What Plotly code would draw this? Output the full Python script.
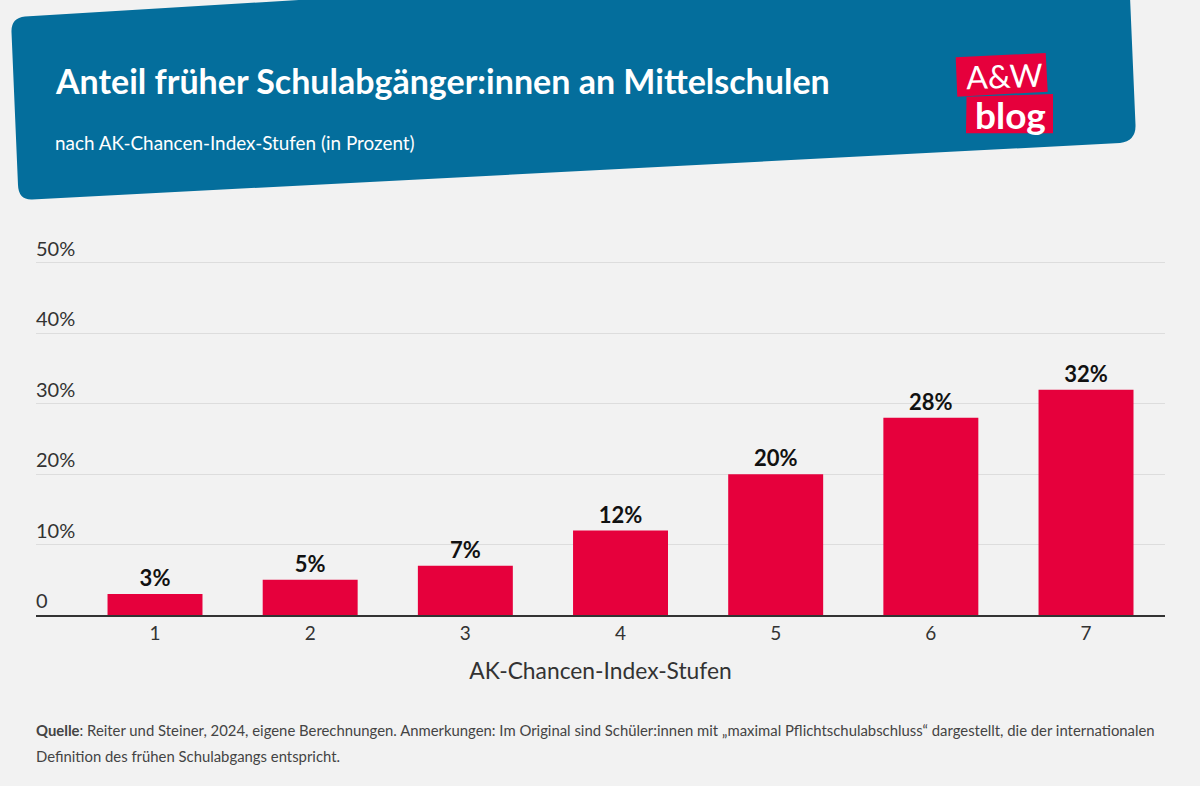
import plotly.graph_objects as go

WIDTH = 1200
HEIGHT = 786

stufen = [1, 2, 3, 4, 5, 6, 7]
anteile = [3, 5, 7, 12, 20, 28, 32]
y_ticks = [0, 10, 20, 30, 40, 50]
y_tick_labels = ["0", "10%", "20%", "30%", "40%", "50%"]

TITLE = "Anteil früher Schulabgänger:innen an Mittelschulen"
SUBTITLE = "nach AK-Chancen-Index-Stufen (in Prozent)"
X_TITLE = "AK-Chancen-Index-Stufen"
SOURCE_LINE_1 = (
    "<b>Quelle</b>: Reiter und Steiner, 2024, eigene Berechnungen. Anmerkungen: Im Original sind "
    "Schüler:innen mit „maximal Pflichtschulabschluss“ dargestellt, die der internationalen"
)
SOURCE_LINE_2 = "Definition des frühen Schulabgangs entspricht."

BACKGROUND = "#F2F2F2"
BLUE = "#046E9C"
RED = "#E6003C"
FONT = "Lato"


def px(x):
    return x / WIDTH


def py(y):
    return 1 - y / HEIGHT


def pixel_path(points, corners=()):
    """Closed SVG path in paper coordinates; corners maps a point index to its Q control point."""
    corners = dict(corners)
    parts = []
    for i, (x, y) in enumerate(points):
        if i == 0:
            parts.append(f"M {px(x):.5f},{py(y):.5f}")
        elif i in corners:
            cx, cy = corners[i]
            parts.append(f"Q {px(cx):.5f},{py(cy):.5f} {px(x):.5f},{py(y):.5f}")
        else:
            parts.append(f"L {px(x):.5f},{py(y):.5f}")
    return " ".join(parts) + " Z"


def pixel_note(x, y, text, size, color, angle=0, xanchor="left"):
    return dict(
        x=px(x), y=py(y), xref="paper", yref="paper", text=text, showarrow=False,
        xanchor=xanchor, yanchor="middle", textangle=angle,
        font=dict(family=FONT, size=size, color=color),
    )


banner = pixel_path(
    [(11.5, 32), (25, 16.5), (1128, -50), (1135.5, 125), (1120, 143), (32, 199.5), (18, 185)],
    corners={1: (11, 18), 4: (1136, 141), 6: (18.5, 200)},
)
logo_top = pixel_path([(955.7, 57.3), (1045.7, 53), (1047.7, 91.7), (957.3, 96.7)])
logo_bottom = pixel_path([(966.5, 96.7), (1053, 94), (1053, 133.3), (966, 133.3)])

fig = go.Figure()

fig.add_trace(
    go.Bar(
        x=stufen,
        y=anteile,
        width=0.612,
        marker=dict(color=RED, line=dict(width=0)),
        text=[f"{v}%" for v in anteile],
        textposition="outside",
        cliponaxis=False,
        textfont=dict(family=FONT, size=22, color="#111111", weight="bold"),
    )
)

fig.update_layout(
    width=WIDTH,
    height=HEIGHT,
    autosize=False,
    margin=dict(l=0, r=0, t=0, b=0),
    paper_bgcolor=BACKGROUND,
    plot_bgcolor=BACKGROUND,
    showlegend=False,
    font=dict(family=FONT, color="#333333"),
    shapes=[
        dict(type="path", path=banner, xref="paper", yref="paper",
             fillcolor=BLUE, line=dict(width=0), layer="below"),
        dict(type="path", path=logo_top, xref="paper", yref="paper",
             fillcolor=RED, line=dict(width=0), layer="below"),
        dict(type="path", path=logo_bottom, xref="paper", yref="paper",
             fillcolor=RED, line=dict(width=0), layer="below"),
    ],
    annotations=[
        pixel_note(53, 80, f"<b>{TITLE}</b>", 34, "#FFFFFF"),
        pixel_note(53, 142, SUBTITLE, 18.9, "#FFFFFF"),
        pixel_note(1004, 75, "A&W", 32, "#FFFFFF", angle=-2, xanchor="center"),
        pixel_note(1010, 114, "<b>blog</b>", 37, "#FFFFFF", xanchor="center"),
        pixel_note(34, 730, SOURCE_LINE_1, 14.86, "#444444"),
        pixel_note(34, 756, SOURCE_LINE_2, 14.86, "#444444"),
    ],
)

fig.update_xaxes(
    domain=[px(36), px(1165)],
    range=[0.233, 7.509],
    tickmode="array",
    tickvals=stufen,
    ticks="",
    showgrid=False,
    zeroline=False,
    showline=True,
    linecolor="#333333",
    linewidth=2,
    tickfont=dict(family=FONT, size=19, color="#333333"),
    title=dict(text=X_TITLE, font=dict(family=FONT, size=22.8, color="#333333"), standoff=20),
)
# headroom above 50 keeps the top tick label from being dropped
fig.update_yaxes(
    domain=[py(615), py(234.8)],
    range=[0, 54],
    tickmode="array",
    tickvals=y_ticks,
    ticktext=y_tick_labels,
    ticklabelposition="inside top",
    ticklabelstandoff=-3,
    ticks="",
    showgrid=True,
    gridcolor="#DDDDDD",
    gridwidth=1,
    zeroline=False,
    tickfont=dict(family=FONT, size=20, color="#333333"),
)

fig.write_html(
    "out.html",
    config=dict(displayModeBar=False),
    post_script="document.body.style.margin='0';",
)
